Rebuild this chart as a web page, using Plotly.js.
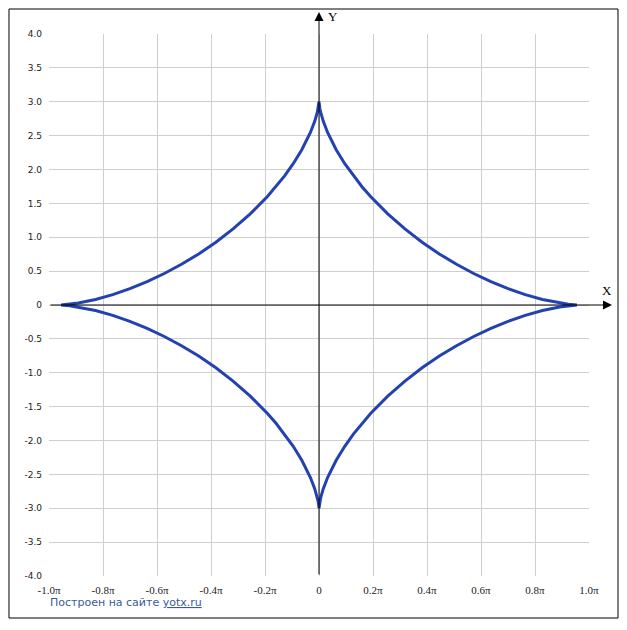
<!DOCTYPE html>
<html>
<head>
<meta charset="utf-8">
<script src="https://cdn.plot.ly/plotly-3.0.1.min.js"></script>
<style>html,body{margin:0;padding:0;background:#fff;}#chart{width:627px;height:630px;}</style>
</head>
<body>
<div id="chart"></div>
<script>
const curveX = [
  0, 0.002, 0.01, 0.02, 0.05, 0.1, 0.2, 0.3, 0.4, 0.5, 0.6, 0.8, 1.0, 1.2, 1.4, 1.6, 1.8, 2.0, 2.2, 2.4, 2.6, 2.8, 2.9, 3.0,
  2.9, 2.8, 2.6, 2.4, 2.2, 2.0, 1.8, 1.6, 1.4, 1.2, 1.0, 0.8, 0.6, 0.5, 0.4, 0.3, 0.2, 0.1, 0.05, 0.02, 0.01, 0.002, 0,
  -0.002, -0.01, -0.02, -0.05, -0.1, -0.2, -0.3, -0.4, -0.5, -0.6, -0.8, -1.0, -1.2, -1.4, -1.6, -1.8, -2.0, -2.2, -2.4, -2.6, -2.8, -2.9, -3.0,
  -2.9, -2.8, -2.6, -2.4, -2.2, -2.0, -1.8, -1.6, -1.4, -1.2, -1.0, -0.8, -0.6, -0.5, -0.4, -0.3, -0.2, -0.1, -0.05, -0.02, -0.01, -0.002, 0
];
const curveY = [
  3, 2.966, 2.900, 2.842, 2.711, 2.546, 2.292, 2.085, 1.906, 1.746, 1.601, 1.345, 1.123, 0.927, 0.754, 0.601, 0.465, 0.346, 0.242, 0.154, 0.082, 0.029, 0.010, 0,
  -0.010, -0.029, -0.082, -0.154, -0.242, -0.346, -0.465, -0.601, -0.754, -0.927, -1.123, -1.345, -1.601, -1.746, -1.906, -2.085, -2.292, -2.546, -2.711, -2.842, -2.900, -2.966, -3,
  -2.966, -2.900, -2.842, -2.711, -2.546, -2.292, -2.085, -1.906, -1.746, -1.601, -1.345, -1.123, -0.927, -0.754, -0.601, -0.465, -0.346, -0.242, -0.154, -0.082, -0.029, -0.010, 0,
  0.010, 0.029, 0.082, 0.154, 0.242, 0.346, 0.465, 0.601, 0.754, 0.927, 1.123, 1.345, 1.601, 1.746, 1.906, 2.085, 2.292, 2.546, 2.711, 2.842, 2.900, 2.966, 3
];

const PI = Math.PI;
const xTickMultiples = [-1.0, -0.8, -0.6, -0.4, -0.2, 0, 0.2, 0.4, 0.6, 0.8, 1.0];
const xTickText = ["-1.0π", "-0.8π", "-0.6π", "-0.4π", "-0.2π", "0", "0.2π", "0.4π", "0.6π", "0.8π", "1.0π"];
const yTickVals = [-4, -3.5, -3, -2.5, -2, -1.5, -1, -0.5, 0, 0.5, 1, 1.5, 2, 2.5, 3, 3.5, 4];
const yTickText = ["-4.0", "-3.5", "-3.0", "-2.5", "-2.0", "-1.5", "-1.0", "-0.5", "0", "0.5", "1.0", "1.5", "2.0", "2.5", "3.0", "3.5", "4.0"];

const trace = {
  x: curveX, y: curveY, type: 'scatter', mode: 'lines',
  line: {color: '#2342b0', width: 3},
  hoverinfo: 'skip'
};

const layout = {
  width: 627, height: 630,
  margin: {l: 49, r: 38, t: 34, b: 54, pad: 0},
  paper_bgcolor: '#fff', plot_bgcolor: '#fff',
  showlegend: false,
  xaxis: {
    range: [-PI, PI], tickvals: xTickMultiples.map(v => v * PI), ticktext: xTickText,
    showgrid: true, gridcolor: '#cfcfcf', gridwidth: 1, zeroline: false, showline: false,
    ticks: '', ticklabelstandoff: 6,
    tickfont: {family: 'Liberation Serif, Times New Roman, serif', size: 11, color: '#222'},
    fixedrange: true
  },
  yaxis: {
    range: [-4, 4], tickvals: yTickVals, ticktext: yTickText,
    showgrid: true, gridcolor: '#cfcfcf', gridwidth: 1, zeroline: false, showline: false,
    ticks: '', ticklabelstandoff: 6,
    tickfont: {family: 'DejaVu Sans, Verdana, sans-serif', size: 9, color: '#222'},
    fixedrange: true
  },
  shapes: [
    {type: 'rect', xref: 'paper', yref: 'paper', x0: -0.0741, x1: 1.0537, y0: -0.0775, y1: 1.0461,
     line: {color: '#000', width: 1}, layer: 'below'}
  ],
  annotations: [
    {xref: 'paper', yref: 'y', x: 1.0426, y: 0, ax: -563, ay: 0, axref: 'pixel', ayref: 'pixel',
     showarrow: true, arrowhead: 2, arrowsize: 1.8, arrowwidth: 1, arrowcolor: '#000', text: ''},
    {xref: 'x', yref: 'paper', x: 0, y: 1.0406, ax: 0, ay: 564,
     showarrow: true, arrowhead: 2, arrowsize: 1.8, arrowwidth: 1, arrowcolor: '#000', text: ''},
    {xref: 'paper', yref: 'paper', x: (607 - 49) / 540, y: (576 - 290) / 542, xanchor: 'center', yanchor: 'middle', showarrow: false,
     text: 'X', font: {family: 'Liberation Serif, serif', size: 13, color: '#000'}},
    {xref: 'paper', yref: 'paper', x: (333 - 49) / 540, y: (576 - 16) / 542, xanchor: 'center', yanchor: 'middle', showarrow: false,
     text: 'Y', font: {family: 'Liberation Serif, serif', size: 13, color: '#000'}},
    {xref: 'paper', yref: 'paper', x: (48 - 49) / 540, y: (576 - 602) / 542, xanchor: 'left', yanchor: 'middle', showarrow: false,
     text: 'Построен на сайте <u>yotx.ru</u>', font: {family: 'DejaVu Sans, Verdana, sans-serif', size: 11, color: '#3a5a9c'}}
  ]
};

Plotly.newPlot('chart', [trace], layout, {displayModeBar: false, staticPlot: true});
</script>
</body>
</html>
